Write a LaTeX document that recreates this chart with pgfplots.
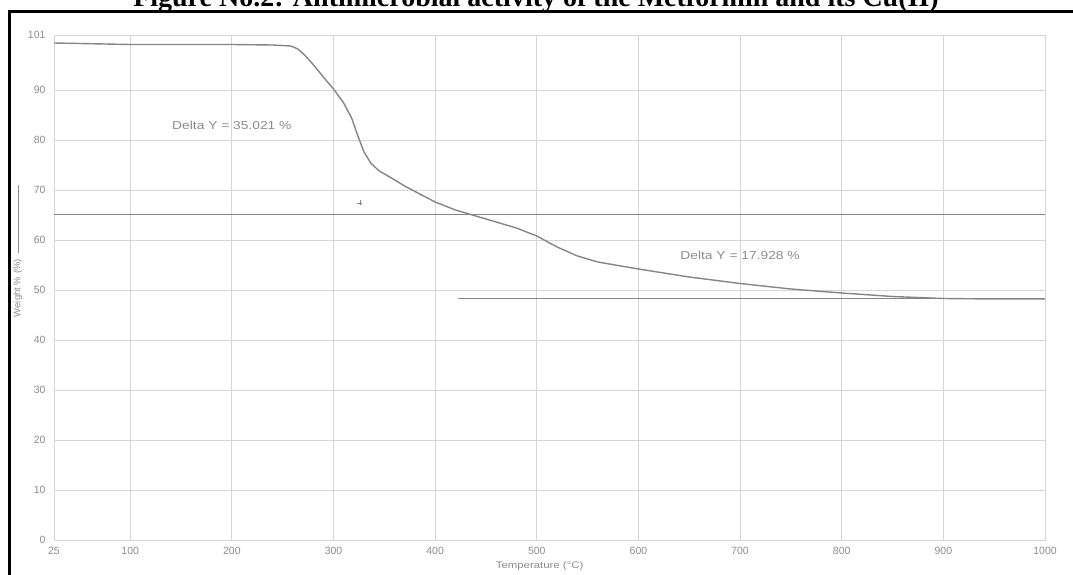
\documentclass[border=0pt]{standalone}
\usepackage{pgfplots}
\pgfplotsset{compat=1.18}
\usepackage{fontspec}
\setmainfont{Liberation Sans}
\newfontfamily\titlefont{Liberation Serif}
\definecolor{curvegray}{HTML}{858585}
\definecolor{labgray}{HTML}{8C8C8C}
\definecolor{gridgray}{HTML}{D6D6D6}
\begin{document}
\begin{tikzpicture}[x=1pt,y=1pt]
\begin{axis}[
  at={(54pt,34pt)}, anchor=south west,
  scale only axis, width=991pt, height=505pt,
  xmin=25, xmax=1000, ymin=0, ymax=101,
  xtick={25,100,200,300,400,500,600,700,800,900,1000},
  ytick={0,10,20,30,40,50,60,70,80,90,101},
  grid=major,
  major grid style={gridgray, line width=0.8pt},
  axis line style={gridgray, line width=0.8pt},
  major tick length=0pt,
  tick label style={font=\fontsize{10.5}{12}\selectfont, text=labgray},
  /pgf/number format/assume math mode=true,
  /pgf/number format/1000 sep={},
  yticklabel style={xshift=-5pt},
  xticklabel style={yshift=-4pt},
  xlabel={Temperature (°C)},
  xlabel style={at={(axis description cs:0.49,0)}, anchor=center, yshift=-26pt,
    font=\fontsize{9.5}{11}\selectfont, text=labgray, xscale=1.2},
  clip=false,
]
% thermogram
\addplot[curvegray, line width=1.4pt] coordinates {
(25,99.4) (50,99.3) (100,99.1) (150,99.1) (200,99.1) (240,99.0) (258,98.8)
(265,98.2) (272,96.9) (280,95.1) (290,92.6) (300,90.2) (310,87.4) (318,84.3)
(324,80.8) (330,77.6) (337,75.3) (345,73.8) (357,72.4) (370,70.8) (383,69.4)
(400,67.6) (420,66.0) (440,64.8) (460,63.6) (480,62.4) (500,60.8) (520,58.6)
(540,56.8) (560,55.6) (600,54.2) (650,52.6) (700,51.3) (750,50.2) (800,49.4)
(850,48.7) (900,48.3) (950,48.2) (1000,48.2)
};
% step lines
\addplot[curvegray, line width=0.9pt] coordinates {(25,65.2) (1000,65.2)};
\addplot[curvegray, line width=0.9pt] coordinates {(422,48.4) (1000,48.4)};
\addplot[only marks, mark=+, mark size=2.5pt, curvegray, mark options={line width=0.7pt}] coordinates {(326,67.4)};
% annotations
\node[font=\fontsize{11.5}{13}\selectfont, text=labgray, xscale=1.2] at (axis cs:200,83) {Delta Y = 35.021 \%};
\node[font=\fontsize{11.5}{13}\selectfont, text=labgray, xscale=1.2] at (axis cs:700,57) {Delta Y = 17.928 \%};
% y label
\node[rotate=90, font=\fontsize{9.5}{11}\selectfont, text=labgray] at (axis description cs:-0.0363,0.572)
  {Weight \% (\%)\hspace{6pt}\rule[0.35ex]{68pt}{0.7pt}};
\end{axis}
% frame and clipped caption
\draw[black, line width=3pt] (9.5pt,-20pt) -- (9.5pt,562.5pt) -- (1100pt,562.5pt);
\node[font=\titlefont\bfseries\fontsize{28}{30}\selectfont, anchor=base] at (536pt,567pt)
  {Figure No.2: Antimicrobial activity of the Metformin and its Cu(II)};
\pgfresetboundingbox
\path[use as bounding box] (0pt,0pt) rectangle (1073pt,574pt);
\end{tikzpicture}
\end{document}
